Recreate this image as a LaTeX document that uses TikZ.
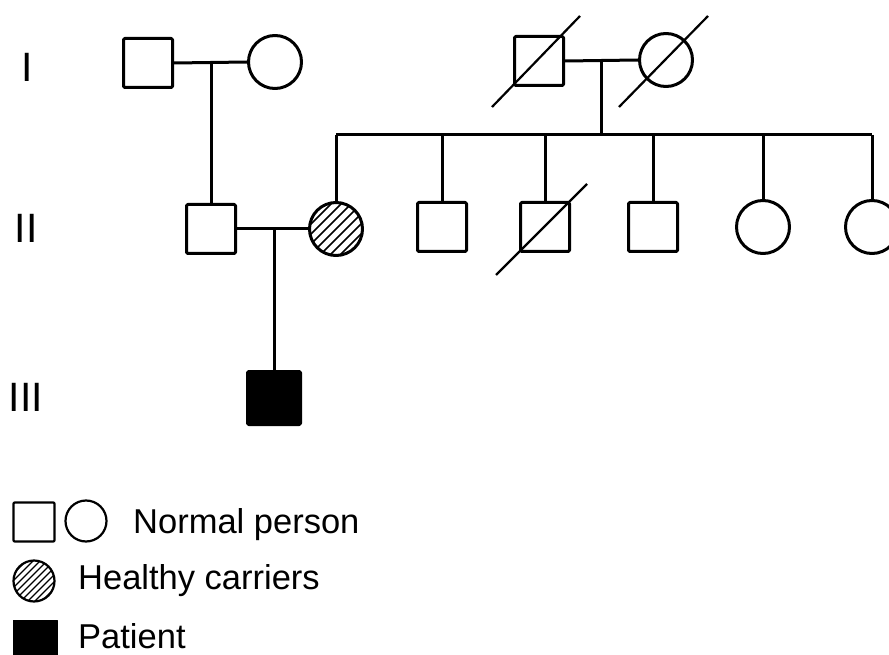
\documentclass[tikz,border=0pt]{standalone}
\usepackage{fontspec}
\setmainfont{Liberation Sans}
\begin{document}
\begin{tikzpicture}[x=1pt,y=-1pt,
  line join=round,
  person/.style={draw, inner sep=0pt, line width=3pt},
  sq/.style={person, rectangle, rounded corners=1.2pt, minimum size=49pt},
  circ/.style={person, circle, minimum size=53pt},
  bigsq/.style={person, rectangle, rounded corners=1.2pt, minimum size=53pt, fill=black},
  hatched/.style={path picture={\foreach \k in {-7,...,7}{\draw[line width=1.7pt] ([xshift={\k*10pt-45pt}, yshift=-45pt]path picture bounding box.center) -- ++(90pt,90pt);}}},
  lhatched/.style={path picture={\foreach \k in {-7,...,7}{\draw[line width=1.3pt] ([xshift={\k*7pt-40pt}, yshift=-40pt]path picture bounding box.center) -- ++(80pt,80pt);}}},
  link/.style={line width=3pt},
  slash/.style={line width=2.2pt},
  gen/.style={font=\fontsize{41pt}{41pt}\selectfont, anchor=base, inner sep=0pt},
  legtext/.style={font=\fontsize{34.5pt}{34.5pt}\selectfont, anchor=base west, inner sep=0pt},
  lsq/.style={draw, rectangle, rounded corners=1pt, inner sep=0pt, line width=2.2pt, minimum width=41pt, minimum height=39pt},
  lcirc/.style={draw, circle, inner sep=0pt, line width=2.2pt, minimum size=41pt}
]
\useasboundingbox (0,0) rectangle (889,655);
\clip (0,0) rectangle (889,655);

% generation labels
\node[gen] (gI) at (27,82) {I};
\node[gen] (gII) at (26,243) {II};
\node[gen] (gIII) at (26,411) {III};

% generation I
\node[sq] (i1) at (148,63) {};
\node[circ] (i2) at (275,62) {};
\node[sq] (i3) at (539,61) {};
\node[circ] (i4) at (666,60) {};

% generation II
\node[sq] (ii1) at (211,229) {};
\node[circ, hatched] (ii2) at (336,229) {};
\node[sq] (ii3) at (442,227) {};
\node[sq] (ii4) at (545,227) {};
\node[sq] (ii5) at (653,227) {};
\node[circ] (ii6) at (763,227) {};
\node[circ] (ii7) at (872,227) {};

% generation III
\node[bigsq] (iii1) at (274,398) {};

% deceased slashes
\draw[slash] (i3) ++(-47,46) -- ++(88,-91);
\draw[slash] (i4) ++(-47,47) -- ++(89,-91);
\draw[slash] (ii4) ++(-49,48) -- ++(91,-91);

% marriages and descent
\coordinate (m1) at (211,62);
\draw[link] (i1.east) -- (i2.west);
\draw[link] (m1) -- (ii1.north);

\coordinate (m2) at (601,62);
\coordinate (sib) at (601,135);
\draw[link] (i3.east) -- (i4.west);
\draw[link] (m2) -- (sib);
\draw[link] (ii2.north |- sib) -- (ii7.north |- sib);
\foreach \c in {ii2,ii3,ii4,ii5,ii6,ii7}{\draw[link] (\c.north |- sib) -- (\c.north);}

\coordinate (m3) at (274,230);
\draw[link] (ii1.east) -- (ii2.west);
\draw[link] (m3) -- (iii1.north);

% legend
\node[lsq] (lsq1) at (34,522) {};
\node[lcirc] (lc1) at (86,521) {};
\node[legtext] (t1) at (133,533) {Normal person};
\node[lcirc, lhatched] (lc2) at (34,581) {};
\node[legtext] (t2) at (78,589) {Healthy carriers};
\node[draw, fill=black, rectangle, inner sep=0pt, minimum size=44pt] (lsq2) at (35,642) {};
\node[legtext] (t3) at (78,648) {Patient};
\end{tikzpicture}
\end{document}
